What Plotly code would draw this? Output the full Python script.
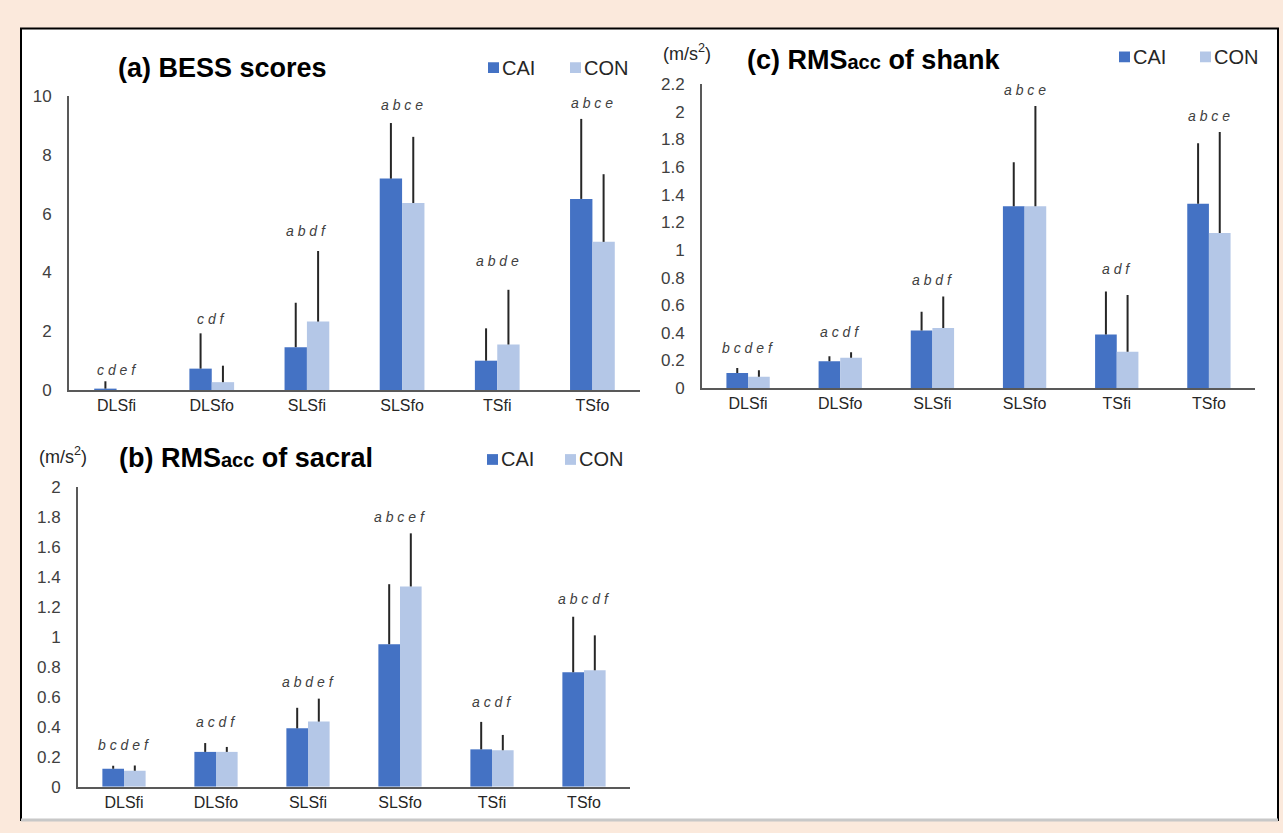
import plotly.graph_objects as go

# ---------------- data ----------------
categories = ["DLSfi", "DLSfo", "SLSfi", "SLSfo", "TSfi", "TSfo"]

# (a) BESS scores
bess_cai = [0.05, 0.73, 1.46, 7.19, 1.00, 6.50]
bess_cai_sd = [0.25, 1.20, 1.51, 1.89, 1.10, 2.72]
bess_con = [0.00, 0.27, 2.33, 6.36, 1.55, 5.04]
bess_con_sd = [0.00, 0.56, 2.40, 2.25, 1.86, 2.30]
bess_sig = ["c d e f", "c d f", "a b d f", "a b c e", "a b d e", "a b c e"]
bess_sig_y = [0.70, 2.42, 5.42, 9.70, 4.39, 9.77]

# (c) RMSacc of shank
shank_cai = [0.110, 0.195, 0.417, 1.316, 0.388, 1.335]
shank_cai_sd = [0.035, 0.035, 0.136, 0.320, 0.312, 0.438]
shank_con = [0.082, 0.220, 0.435, 1.316, 0.263, 1.123]
shank_con_sd = [0.048, 0.040, 0.229, 0.727, 0.412, 0.732]
shank_sig = ["b c d e f", "a c d f", "a b d f", "a b c e", "a d f", "a b c e"]
shank_sig_y = [0.294, 0.41, 0.78, 2.156, 0.86, 1.97]

# (b) RMSacc of sacral
sacral_cai = [0.120, 0.233, 0.390, 0.951, 0.250, 0.764]
sacral_cai_sd = [0.020, 0.059, 0.137, 0.400, 0.183, 0.370]
sacral_con = [0.107, 0.233, 0.435, 1.336, 0.244, 0.777]
sacral_con_sd = [0.035, 0.033, 0.153, 0.354, 0.102, 0.233]
sacral_sig = ["b c d e f", "a c d f", "a b d e f", "a b c e f", "a c d f", "a b c d f"]
sacral_sig_y = [0.277, 0.429, 0.696, 1.80, 0.566, 1.25]

# ---------------- style ----------------
W, H = 1283, 833
FONT = "Liberation Sans, Arial, sans-serif"
CAI_COLOR = "#4472C4"
CON_COLOR = "#B4C7E7"
ERR_COLOR = "#262626"
AXIS_COLOR = "#595959"
TICK_COLOR = "#404040"


def px_x(x0, x1):
    return [x0 / W, x1 / W]


def px_y(top, bottom):
    return [1 - bottom / H, 1 - top / H]


fig = go.Figure()

panels = [
    dict(ax="", cai=bess_cai, cai_sd=bess_cai_sd, con=bess_con, con_sd=bess_con_sd,
         sig=bess_sig, sig_y=bess_sig_y, xd=(69, 640), yd=(89, 390), rng=[0, 10], dtick=2),
    dict(ax="2", cai=shank_cai, cai_sd=shank_cai_sd, con=shank_con, con_sd=shank_con_sd,
         sig=shank_sig, sig_y=shank_sig_y, xd=(702, 1255), yd=(77, 388), rng=[0, 2.2], dtick=0.2),
    dict(ax="3", cai=sacral_cai, cai_sd=sacral_cai_sd, con=sacral_con, con_sd=sacral_con_sd,
         sig=sacral_sig, sig_y=sacral_sig_y, xd=(78, 630), yd=(489, 796), rng=[0, 2], dtick=0.2),
]

annotations = []
shapes = []

for p in panels:
    xa = "x" + p["ax"]
    ya = "y" + p["ax"]
    for vals, sd, color, name in [(p["cai"], p["cai_sd"], CAI_COLOR, "CAI"),
                                  (p["con"], p["con_sd"], CON_COLOR, "CON")]:
        fig.add_trace(go.Bar(
            x=categories, y=vals, name=name, marker_color=color, marker_line_width=0,
            xaxis=xa, yaxis=ya, showlegend=False,
            error_y=dict(type="data", array=sd, arrayminus=[0] * len(sd), symmetric=False,
                         width=0, thickness=2, color=ERR_COLOR),
        ))
    for c, s, yv in zip(categories, p["sig"], p["sig_y"]):
        annotations.append(dict(
            x=c, y=yv, xref=xa, yref=ya, text="<i>" + s + "</i>", showarrow=False,
            font=dict(family=FONT, size=14, color="#404040"), yanchor="middle",
        ))
    layout_x = dict(domain=px_x(*p["xd"]), anchor=ya, showline=True, linecolor=AXIS_COLOR,
                    linewidth=2, ticks="", showgrid=False, zeroline=False,
                    tickfont=dict(family=FONT, size=16, color="#262626"))
    layout_y = dict(domain=px_y(*p["yd"]), anchor=xa, range=p["rng"], dtick=p["dtick"],
                    showline=True, linecolor=AXIS_COLOR, linewidth=2, ticks="",
                    showgrid=False, zeroline=False, ticklabelstandoff=12,
                    tickformat="~g",
                    tickfont=dict(family=FONT, size=17, color=TICK_COLOR))
    fig.update_layout(**{"xaxis" + p["ax"]: layout_x, "yaxis" + p["ax"]: layout_y})

# white panel with frame
shapes.append(dict(type="rect", xref="paper", yref="paper", x0=21 / W, x1=1278 / W,
                   y0=1 - 830 / H, y1=1 - 20 / H, fillcolor="white",
                   line=dict(color="black", width=2), layer="below"))
shapes.append(dict(type="line", xref="paper", yref="paper", x0=21 / W, x1=1278 / W,
                   y0=1 - 830 / H, y1=1 - 830 / H, line=dict(color="#c8c8c8", width=3)))

# titles
titles = [
    ("(a) BESS scores", 222, 60),
    ("(c) RMS<span style='font-size:20px'>acc</span> of shank", 873, 52),
    ("(b) RMS<span style='font-size:20px'>acc</span> of sacral", 246, 459),
]
for t, x, y in titles:
    annotations.append(dict(x=x / W, y=1 - y / H, xref="paper", yref="paper", text="<b>" + t + "</b>",
                            showarrow=False, xanchor="center", yanchor="middle",
                            font=dict(family=FONT, size=27, color="black")))

# units
for x, y in [(687, 45), (63, 457)]:
    annotations.append(dict(x=x / W, y=1 - y / H, xref="paper", yref="paper", text="(m/s<sup>2</sup>)",
                            showarrow=False, xanchor="center", yanchor="middle",
                            font=dict(family=FONT, size=18, color="#262626")))

# legends (square + label)
legends = [(488, 570, 60), (1119, 1200, 49), (487, 565, 461)]
for xc, xn, y in legends:
    for xs, color, label in [(xc, CAI_COLOR, "CAI"), (xn, CON_COLOR, "CON")]:
        shapes.append(dict(type="rect", xref="paper", yref="paper", x0=xs / W, x1=(xs + 11) / W,
                           y0=1 - (y + 5.5) / H, y1=1 - (y - 5.5) / H, fillcolor=color, line=dict(width=0)))
        annotations.append(dict(x=(xs + 12) / W, y=1 - y / H, xref="paper", yref="paper", text=label,
                                showarrow=False, xanchor="left", yanchor="middle",
                                font=dict(family=FONT, size=20, color="#262626")))

fig.update_layout(
    width=W, height=H, margin=dict(l=0, r=0, t=0, b=0),
    paper_bgcolor="#FBE9DC", plot_bgcolor="rgba(0,0,0,0)",
    barmode="group", bargap=0.53, bargroupgap=0,
    annotations=annotations, shapes=shapes, font=dict(family=FONT),
)

fig.write_html("out.html", config={"displayModeBar": False},
               post_script="document.body.style.margin='0px';document.body.style.overflow='hidden';")
